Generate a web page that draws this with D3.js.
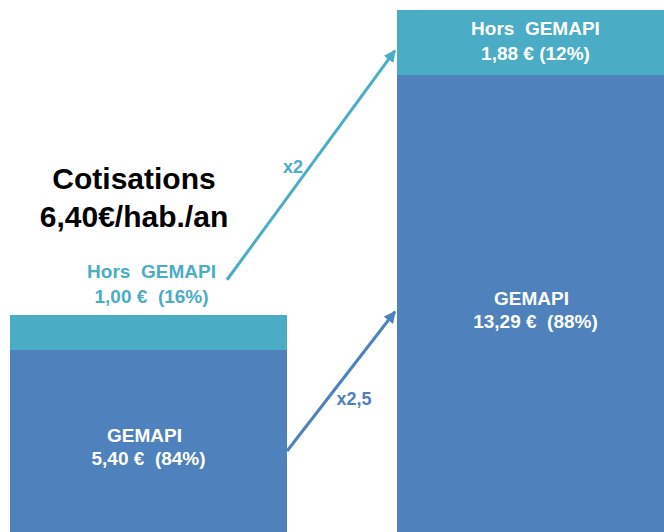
<meta charset="utf-8">
<script src="https://cdn.jsdelivr.net/npm/d3@7"></script>
<style>
  body { margin: 0; background: #fff; }
  text { font-family: "Liberation Sans", Arial, sans-serif; font-weight: bold; }
  .seg { shape-rendering: crispEdges; }
</style>
<body>
<script>
  // values (euros per inhabitant per year)
  var periods = ['actuel', 'futur'];
  var gemapi = [5.40, 13.29];
  var horsGemapi = [1.00, 1.88];
  var gemapiPct = ['84%', '88%'];
  var horsPct = ['16%', '12%'];
  var gemapiLabels = ['5,40 €', '13,29 €'];
  var horsLabels = ['1,00 €', '1,88 €'];
  var ratios = ['x2,5', 'x2'];

  var blue = '#4f81bd', teal = '#4bacc6';

  var svg = d3.select('body').append('svg')
    .attr('width', 664)
    .attr('height', 532);

  var x = d3.scaleBand().domain(periods).range([10, 674]).paddingInner(0.284).paddingOuter(0);
  var y = d3.scaleLinear().domain([0, 15.17]).range([538, 10]);

  var defs = svg.append('defs');
  [['arrBlue', blue], ['arrTeal', teal]].forEach(function(m){
    defs.append('marker').attr('id', m[0])
      .attr('viewBox', '0 0 10 10').attr('refX', 9).attr('refY', 5)
      .attr('markerWidth', 4).attr('markerHeight', 4).attr('orient', 'auto')
      .append('path').attr('d', 'M0,0L10,5L0,10z').attr('fill', m[1]);
  });

  var bars = svg.selectAll('g.bar').data(periods).enter().append('g').attr('class', 'bar');

  bars.append('rect').attr('class', 'seg')
    .attr('x', function(d){ return x(d); })
    .attr('width', x.bandwidth())
    .attr('y', function(d, i){ return y(gemapi[i]); })
    .attr('height', function(d, i){ return y(0) - y(gemapi[i]); })
    .attr('fill', blue);

  bars.append('rect').attr('class', 'seg')
    .attr('x', function(d){ return x(d); })
    .attr('width', x.bandwidth())
    .attr('y', function(d, i){ return y(gemapi[i] + horsGemapi[i]); })
    .attr('height', function(d, i){ return y(gemapi[i]) - y(gemapi[i] + horsGemapi[i]); })
    .attr('fill', teal);

  // GEMAPI labels inside the blue part
  var gl = bars.append('text')
    .attr('text-anchor', 'middle').attr('fill', '#fff').attr('font-size', 19)
    .attr('transform', function(d, i){
      var yy = y(gemapi[i] * 0.5) - 2;
      return 'translate(' + (x(d) + x.bandwidth() / 2) + ',' + yy + ')';
    });
  gl.append('tspan').attr('x', 0).attr('dx', -4).text('GEMAPI');
  gl.append('tspan').attr('x', 0).attr('dy', 23).style('white-space', 'pre')
    .text(function(d, i){ return gemapiLabels[i] + '  (' + gemapiPct[i] + ')'; });

  // Hors GEMAPI: above the left bar, inside the right bar
  var hl = bars.append('text')
    .attr('text-anchor', 'middle').attr('font-size', 19)
    .attr('fill', function(d, i){ return i === 0 ? teal : '#fff'; })
    .attr('transform', function(d, i){
      var top = y(gemapi[i] + horsGemapi[i]);
      var xx = i === 0 ? x(d) + x.bandwidth() / 2 + 3 : x(d) + x.bandwidth() / 2;
      var yy = i === 0 ? top - 37 : top + 25;
      return 'translate(' + xx + ',' + yy + ')';
    });
  hl.append('tspan').attr('x', 0).style('white-space', 'pre').text('Hors  GEMAPI');
  hl.append('tspan').attr('x', 0).attr('dy', 25).style('white-space', 'pre')
    .text(function(d, i){ return horsLabels[i] + (i === 0 ? '  (' : ' (') + horsPct[i] + ')'; });

  // title
  var t = svg.append('text').attr('text-anchor', 'middle').attr('font-size', 30).attr('fill', '#000')
    .attr('transform', 'translate(134,189)');
  t.append('tspan').attr('x', 0).text('Cotisations');
  t.append('tspan').attr('x', 0).attr('dy', 38).text('6,40€/hab./an');

  // growth arrows
  var left = periods[0], right = periods[1];
  var x0 = x(left) + x.bandwidth(), x1 = x(right);
  var arrows = [
    { from: [x0, y(2.5)], to: [x1 - 2, y(6.5)], color: blue, marker: 'arrBlue', label: ratios[0], lx: 354, ly: 405 },
    { from: [x0 - 60, y(7.42)], to: [x1 - 2, y(14.0)], color: teal, marker: 'arrTeal', label: ratios[1], lx: 293, ly: 173 }
  ];

  svg.selectAll('line.arrow').data(arrows).enter().append('line')
    .attr('class', 'arrow')
    .attr('x1', function(d){ return d.from[0]; })
    .attr('y1', function(d){ return d.from[1]; })
    .attr('x2', function(d){ return d.to[0]; })
    .attr('y2', function(d){ return d.to[1]; })
    .attr('stroke', function(d){ return d.color; })
    .attr('stroke-width', 3)
    .attr('marker-end', function(d){ return 'url(#' + d.marker + ')'; });

  svg.selectAll('text.ratio').data(arrows).enter().append('text')
    .attr('class', 'ratio')
    .attr('text-anchor', 'middle').attr('font-size', 18)
    .attr('x', function(d){ return d.lx; })
    .attr('y', function(d){ return d.ly; })
    .attr('fill', function(d){ return d.color; })
    .text(function(d){ return d.label; });
</script>
</body>
</html>
